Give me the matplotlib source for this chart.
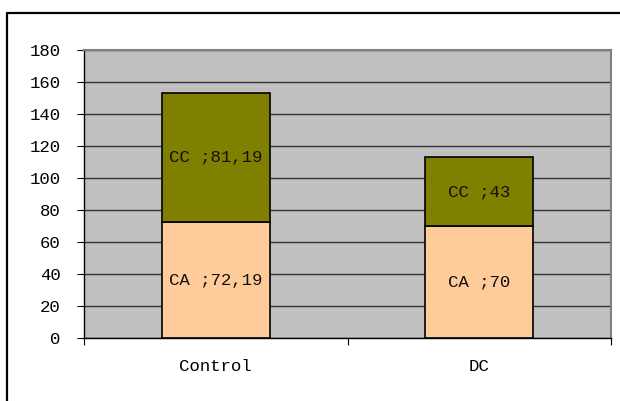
import numpy as np
import matplotlib.pyplot as plt
from matplotlib.lines import Line2D

categories = ['Control', 'DC']
ca_values = [72.19, 70]
cc_values = [81.19, 43]
ca_labels = ['CA ;72,19', 'CA ;70']
cc_labels = ['CC ;81,19', 'CC ;43']
y_ticks = [0, 20, 40, 60, 80, 100, 120, 140, 160, 180]

plt.rcParams['font.family'] = 'Liberation Mono'

fig = plt.figure(figsize=(6.2, 4.01), dpi=100)
ax = fig.add_axes([84 / 620, 63 / 401, 527 / 620, 288 / 401])
ax.set_facecolor('#C0C0C0')

x = np.arange(len(categories))
w = 0.41
ax.bar(x, ca_values, w, color='#FFCC99', edgecolor='black', linewidth=1.2, zorder=3)
ax.bar(x, cc_values, w, bottom=ca_values, color='#808000', edgecolor='black', linewidth=1.2, zorder=3)

fs = 12.5
for i in range(len(categories)):
    ax.text(x[i], ca_values[i] / 2, ca_labels[i], ha='center', va='center', fontsize=fs, color='#111111', zorder=4)
    ax.text(x[i], ca_values[i] + cc_values[i] / 2, cc_labels[i], ha='center', va='center', fontsize=fs, color='#111111', zorder=4)

ax.set_xlim(-0.5, 1.5)
ax.set_ylim(0, 180)
ax.set_yticks(y_ticks)
ax.set_yticklabels([str(v) for v in y_ticks], fontsize=fs)
ax.yaxis.grid(True, color='#333333', linewidth=1)
ax.set_axisbelow(True)

ax.set_xticks([-0.5, 0.5, 1.5])
ax.set_xticklabels([])
ax.set_xticks(x, minor=True)
ax.set_xticklabels(categories, minor=True, fontsize=fs)
ax.tick_params(axis='x', which='minor', length=0, pad=15)
ax.tick_params(axis='x', which='major', length=5, direction='out', color='black')
ax.tick_params(axis='y', length=5, direction='out', pad=12)

for s in ['top', 'right']:
    ax.spines[s].set_color('#808080')
    ax.spines[s].set_linewidth(1.5)
for s in ['left', 'bottom']:
    ax.spines[s].set_color('black')
    ax.spines[s].set_linewidth(1)

# outer chart frame
fy = 1 - 13 / 401
fx = 7 / 620
fig.add_artist(Line2D([fx, fx, 1], [0, fy, fy], color='black', linewidth=1.6, transform=fig.transFigure))

fig.savefig('out.png', dpi=100)
